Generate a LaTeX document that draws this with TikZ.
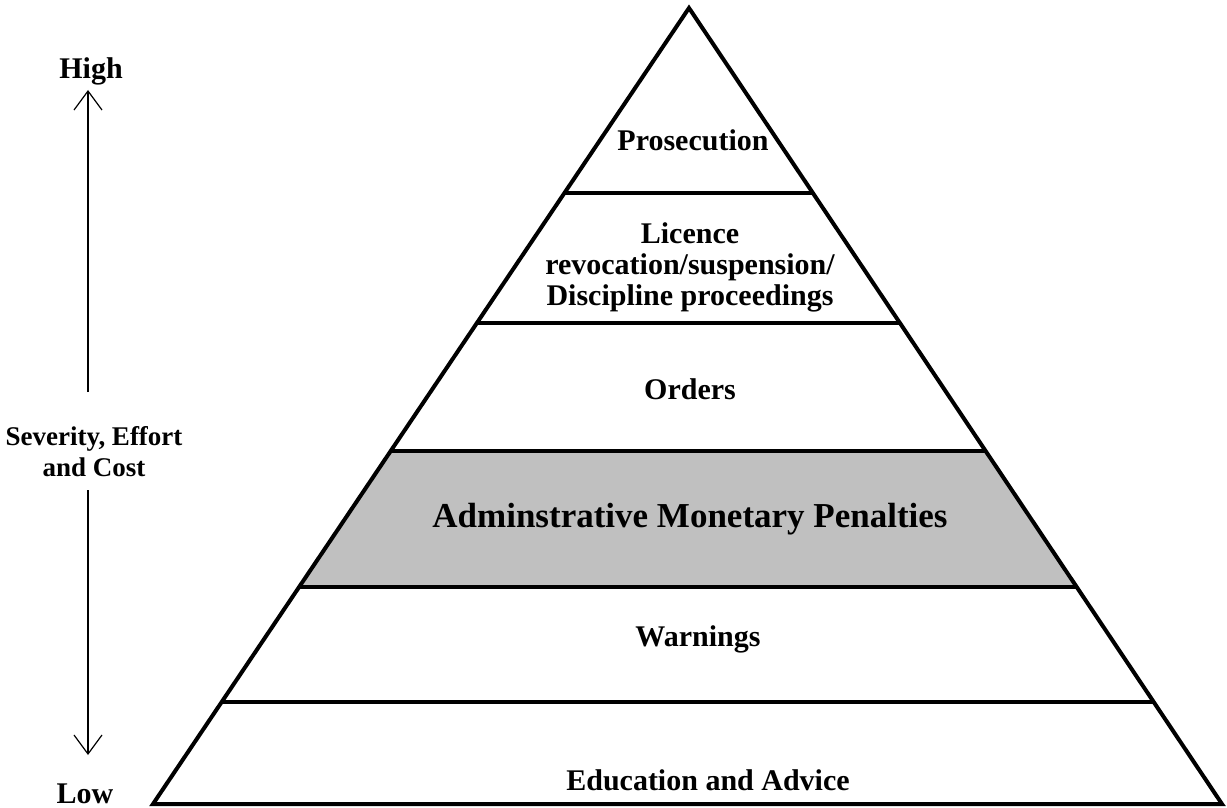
\documentclass[tikz,border=0pt]{standalone}
\usepackage{fontspec}
\setmainfont{Liberation Serif}
\usetikzlibrary{calc}
\usetikzlibrary{arrows.meta}
\usetikzlibrary{positioning}

\definecolor{bandgray}{RGB}{192,192,192}

\begin{document}
\begin{tikzpicture}[x=1pt,y=-1pt,
    font=\bfseries\fontsize{30}{31}\selectfont,
    tier/.style={line width=4pt},
    tierlabel/.style={align=center,inner sep=0,anchor=base},
    scale arrow/.style={line width=1.2pt,-{Straight Barb[length=19pt,width=28pt]}}]
  \useasboundingbox (0,0) rectangle (1227,808);

  % Corners of the pyramid
  \coordinate (apex) at (689,8);
  \coordinate (bl) at (153,804);
  \coordinate (br) at (1222,804);

  % Tier boundaries along both sides
  \foreach \t/\n in {0.233/a,0.396/b,0.557/c,0.727/d,0.872/e}{
    \coordinate (l\n) at ($(apex)!\t!(bl)$);
    \coordinate (r\n) at ($(apex)!\t!(br)$);
  }

  % Shaded tier, then the outlines
  \fill[bandgray] (lc) -- (rc) -- (rd) -- (ld) -- cycle;
  \foreach \n in {a,b,c,d,e}
    \draw[tier] (l\n) -- (r\n);
  \draw[tier,line join=miter] (apex) -- (bl) -- (br) -- cycle;

  % Place nodes (base is the last line of a multi-line node)
  \node[tierlabel] (pros) at (693,150) {Prosecution};
  \node[tierlabel] (lic) at (690,305) {Licence\\revocation/suspension/\\Discipline proceedings};
  \node[tierlabel] (ord) at (690,399) {Orders};
  \node[tierlabel,font=\bfseries\fontsize{35}{40}\selectfont] (amp) at (690,527) {Adminstrative Monetary Penalties};
  \node[tierlabel] (warn) at (698,646) {Warnings};
  \node[tierlabel] (edu) at (708,790) {Education and Advice};

  % Scale on the left
  \node[tierlabel] (high) at (91,78) {High};
  \node[tierlabel,font=\bfseries\fontsize{27}{31}\selectfont] (sev) at (94,476) {Severity, Effort\\and Cost};
  \node[tierlabel] (low) at (85,803) {Low};

  \coordinate (uptip) at (88,90);
  \coordinate (upfoot) at (88,392);
  \coordinate (downfoot) at (88,490);
  \coordinate (downtip) at (88,755);
  \draw[scale arrow] (upfoot) -- (uptip);
  \draw[scale arrow] (downfoot) -- (downtip);
\end{tikzpicture}
\end{document}
